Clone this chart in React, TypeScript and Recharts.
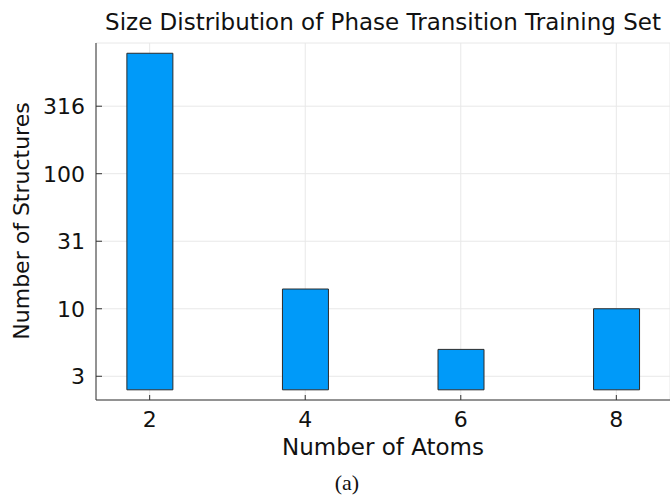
import { BarChart, Bar, XAxis, YAxis, CartesianGrid } from 'recharts';

// values (log y axis)
const ATOM_COUNTS = [2, 4, 6, 8];
const STRUCTURE_COUNTS = [780, 14, 5, 10];
const BAR_FLOOR = 2.51;

const X_TICKS = [2, 4, 6, 8];
const X_DOMAIN = [1.31, 8.69];
const Y_TICKS = [3.162, 10, 31.62, 100, 316.2];
const Y_TICK_LABELS = ['3', '10', '31', '100', '316'];
const Y_DOMAIN = [2.11, 929];

const FONT = '"DejaVu Sans", sans-serif';
const TEXT = '#111';
const AXIS = '#333';

const data = ATOM_COUNTS.map((atoms, i) => ({
  atoms,
  count: [BAR_FLOOR, STRUCTURE_COUNTS[i]],
}));

const YTick = (props: any) => {
  const { x, y, payload } = props;
  const i = Y_TICKS.indexOf(payload.value);
  return (
    <g>
      <line x1={x} x2={x + 6} y1={y} y2={y} stroke={AXIS} strokeWidth={1} />
      <text x={x - 11} y={y} dy="0.36em" textAnchor="end" fontSize={22} fontFamily={FONT} fill={TEXT}>
        {Y_TICK_LABELS[i] ?? payload.value}
      </text>
    </g>
  );
};

const XTick = (props: any) => {
  const { x, y, payload } = props;
  return (
    <g>
      <line x1={x} x2={x} y1={y} y2={y - 5} stroke={AXIS} strokeWidth={1} />
      <text x={x} y={y + 27} textAnchor="middle" fontSize={22} fontFamily={FONT} fill={TEXT}>
        {payload.value}
      </text>
    </g>
  );
};

export default function App() {
  return (
    <div style={{ position: 'absolute', left: 0, top: 0, width: 670, height: 495, background: '#fff', fontFamily: FONT }}>
      <BarChart
        width={670}
        height={495}
        data={data}
        margin={{ top: 43, right: 0, bottom: 35, left: 0 }}
      >
        <CartesianGrid stroke="#e8e8e8" strokeWidth={1} />
        <XAxis
          type="number"
          dataKey="atoms"
          domain={X_DOMAIN}
          ticks={X_TICKS}
          allowDataOverflow
          height={60}
          tickSize={0}
          tickMargin={0}
          tickLine={false}
          axisLine={{ stroke: AXIS, strokeWidth: 1 }}
          tick={<XTick />}
        />
        <YAxis
          type="number"
          scale="log"
          domain={Y_DOMAIN}
          ticks={Y_TICKS}
          allowDataOverflow
          width={96}
          tickSize={0}
          tickMargin={0}
          tickLine={false}
          axisLine={{ stroke: AXIS, strokeWidth: 1 }}
          tick={<YTick />}
        />
        <Bar dataKey="count" barSize={46} fill="#009af9" stroke="#2b2b2b" strokeWidth={1} isAnimationActive={false} />
      </BarChart>

      <div style={{ position: 'absolute', left: 96, width: 574, top: 9, textAlign: 'center', fontSize: 23, lineHeight: '26px', color: TEXT, whiteSpace: 'nowrap' }}>
        Size Distribution of Phase Transition Training Set
      </div>
      <div style={{ position: 'absolute', left: 183, width: 400, top: 434, textAlign: 'center', fontSize: 23, lineHeight: '26px', color: TEXT }}>
        Number of Atoms
      </div>
      <div
        style={{
          position: 'absolute',
          left: 22 - 160,
          top: 221 - 15,
          width: 320,
          height: 30,
          lineHeight: '30px',
          textAlign: 'center',
          fontSize: 22,
          color: TEXT,
          transform: 'rotate(-90deg)',
          whiteSpace: 'nowrap',
        }}
      >
        Number of Structures
      </div>
      <div style={{ position: 'absolute', left: 297, width: 100, top: 471, textAlign: 'center', fontSize: 22, lineHeight: '24px', color: TEXT, fontFamily: '"Liberation Serif", serif' }}>
        (a)
      </div>
    </div>
  );
}
